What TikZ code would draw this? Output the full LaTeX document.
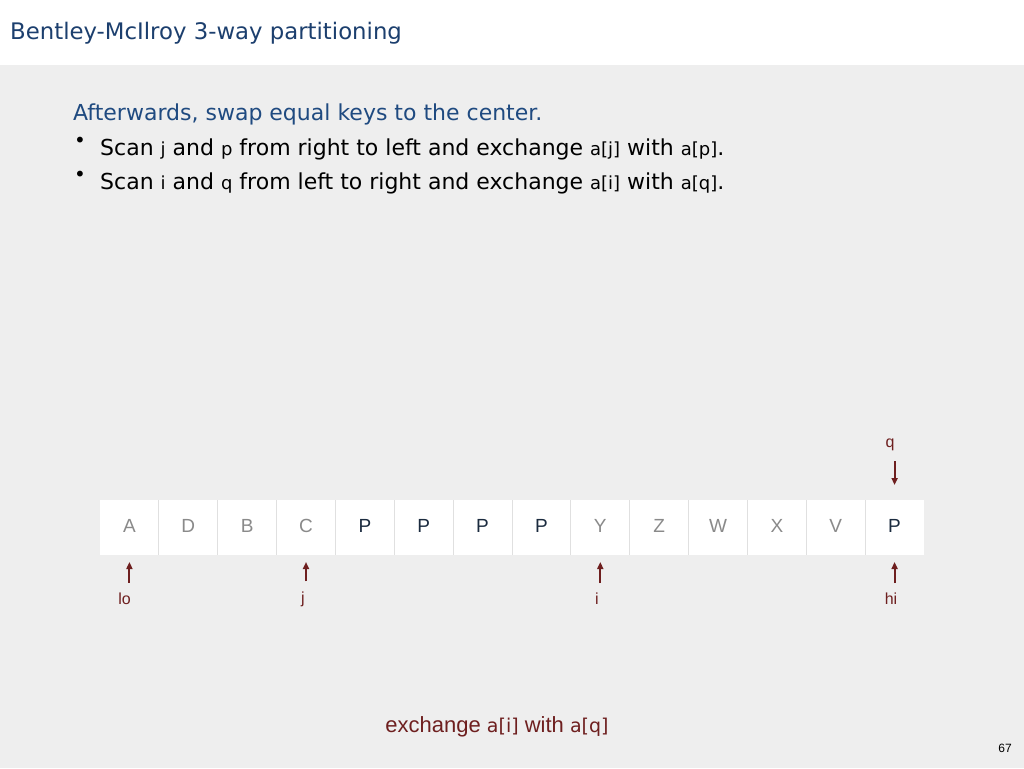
\documentclass[tikz,border=0pt]{standalone}
\usepackage{fontspec}
\setmainfont{DejaVu Sans}
\newfontfamily\codefont{DejaVu Sans}
\newfontfamily\labfont{Liberation Sans}
\usetikzlibrary{arrows.meta}
\definecolor{bg}{HTML}{EEEEEE}
\definecolor{titleblue}{HTML}{1C3F6E}
\definecolor{bodyblue}{HTML}{1F4A80}
\definecolor{ptrred}{HTML}{6E1F1F}
\definecolor{keygray}{HTML}{8A8A8A}
\definecolor{keynavy}{HTML}{1B2B3F}
\definecolor{cellline}{HTML}{E0E0E0}
\newcommand{\cd}[1]{{\codefont\fontsize{18}{18}\selectfont #1}}
\newcommand{\cb}[1]{{\codefont\fontsize{19}{19}\selectfont #1}}
\begin{document}
\begin{tikzpicture}[x=1pt,y=-1pt,
  txt/.style={anchor=base west, inner sep=0pt},
  cell/.style={fill=white, minimum width=58.857pt, minimum height=55pt,
    inner sep=0pt, outer sep=0pt, text height=13.7pt, text depth=4pt,
    font=\labfont\fontsize{19}{19}\selectfont},
  sepline/.style={draw=cellline, line width=1pt},
  lab/.style={inner sep=0pt, text=ptrred, font=\labfont\fontsize{16}{16}\selectfont},
  ptr/.style={draw=ptrred, line width=2pt, -{Triangle[length=7pt,width=6pt]}},
  bul/.style={inner sep=0pt, font=\fontsize{20}{20}\selectfont}]
\useasboundingbox (0,0) rectangle (1024,768);
\fill[bg] (0,0) rectangle (1024,768);
\fill[white] (0,0) rectangle (1024,65);
\node[txt, text=titleblue, font=\fontsize{22.8}{24}\selectfont] (title) at (10,40) {Bentley-McIlroy 3-way partitioning};
\node[txt, text=bodyblue, font=\fontsize{22}{24}\selectfont] (l1) at (73,120) {Afterwards, swap equal keys to the center.};
\node[bul] (b2) at (80,142) {\textbullet};
\node[txt, font=\fontsize{22}{24}\selectfont] (l2) at (100,155) {Scan \cd{j} and \cd{p} from right to left and exchange \cd{a[j]} with \cd{a[p]}.};
\node[bul] (b3) at (80,176) {\textbullet};
\node[txt, font=\fontsize{22}{24}\selectfont] (l3) at (100,189) {Scan \cd{i} and \cd{q} from left to right and exchange \cd{a[i]} with \cd{a[q]}.};
\foreach \k/\l/\c in {0/A/keygray,1/D/keygray,2/B/keygray,3/C/keygray,4/P/keynavy,5/P/keynavy,6/P/keynavy,7/P/keynavy,8/Y/keygray,9/Z/keygray,10/W/keygray,11/X/keygray,12/V/keygray,13/P/keynavy}
  \node[cell, text=\c] (c\k) at ({100+58.857*(\k+0.5)},527.5) {\l};
\foreach \k in {0,...,12}
  \draw[sepline] (c\k.north east) -- (c\k.south east);
\node[lab] (lo) at (124.5,599) {lo};
\node[lab] (j) at (303,599) {j};
\node[lab] (i) at (597,599) {i};
\node[lab] (hi) at (891,599) {hi};
\node[lab] (q) at (890,445) {q};
\draw[ptr, shorten <=10pt, shorten >=7pt] (c0.south |- lo.north) -- (c0.south);
\draw[ptr, shorten <=10pt, shorten >=7pt] (c3.south |- j.north) -- (c3.south);
\draw[ptr, shorten <=10pt, shorten >=7pt] (c8.south |- i.north) -- (c8.south);
\draw[ptr, shorten <=10pt, shorten >=7pt] (c13.south |- hi.north) -- (c13.south);
\draw[ptr, shorten <=10pt, shorten >=15pt] (c13.north |- q.south) -- (c13.north);
\node[anchor=base, inner sep=0pt, text=ptrred, font=\labfont\fontsize{22}{22}\selectfont] (ex) at (497,732) {exchange \cb{a[i]} with \cb{a[q]}};
\node[inner sep=0pt, font=\labfont\fontsize{12}{12}\selectfont] (pg) at (1005,748) {67};
\end{tikzpicture}
\end{document}
